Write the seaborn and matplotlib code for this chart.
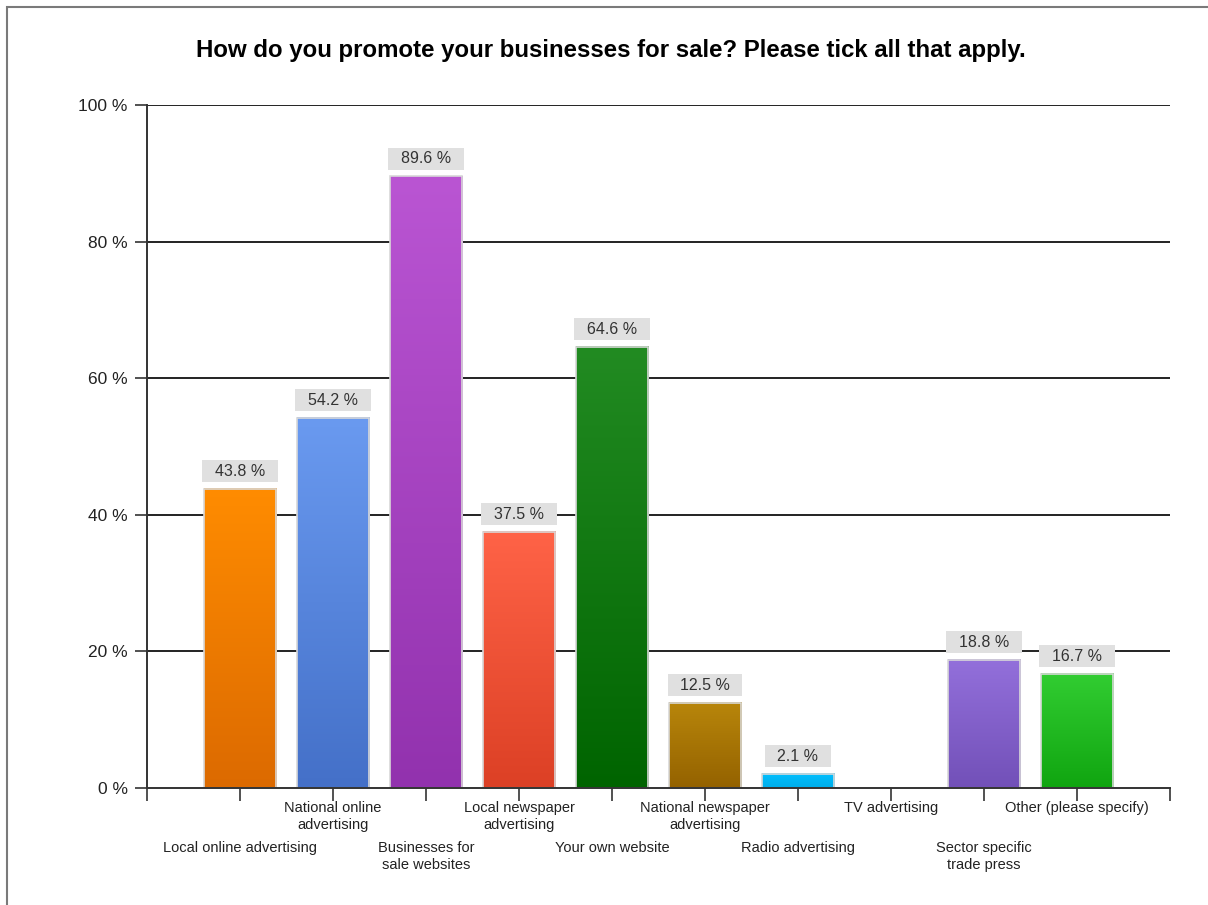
import numpy as np
import matplotlib
matplotlib.use("Agg")
import matplotlib.pyplot as plt
from matplotlib.colors import to_rgb
from matplotlib.patches import Rectangle
import seaborn as sns

# Survey answers and share of respondents (%)
categories = [
    "Local online advertising",
    "National online\nadvertising",
    "Businesses for\nsale websites",
    "Local newspaper\nadvertising",
    "Your own website",
    "National newspaper\nadvertising",
    "Radio advertising",
    "TV advertising",
    "Sector specific\ntrade press",
    "Other (please specify)",
]
values = [43.8, 54.2, 89.6, 37.5, 64.6, 12.5, 2.1, 0.0, 18.8, 16.7]
y_ticks = [0, 20, 40, 60, 80, 100]
y_tick_labels = ["0 %", "20 %", "40 %", "60 %", "80 %", "100 %"]
title = "How do you promote your businesses for sale? Please tick all that apply."

# top / bottom colours of each bar's vertical gradient
top_colors = ["#ff8c00", "#6a9af0", "#ba55d3", "#ff6347", "#228b22",
              "#b8860b", "#00bfff", "#888888", "#9370db", "#32cd32"]
bottom_colors = ["#dc6a00", "#4470c8", "#9232ae", "#dc4025", "#006400",
                 "#946200", "#00aeea", "#666666", "#7250b8", "#10a510"]

sns.set_style("white")
plt.rcParams["font.family"] = ["Liberation Sans", "DejaVu Sans"]

W, H = 1208, 905
fig = plt.figure(figsize=(W / 100, H / 100), dpi=100)
ax = fig.add_axes([147 / W, 1 - 788 / H, (1170 - 147) / W, (788 - 105) / H])

sns.barplot(x=list(range(len(values))), y=values, ax=ax, width=0.78,
            color="#999999", native_scale=True, zorder=2)

# replace flat fills by vertical gradients
for patch, c_top, c_bot in zip(ax.patches, top_colors, bottom_colors):
    x0, y0 = patch.get_x(), patch.get_y()
    w, h = patch.get_width(), patch.get_height()
    if h <= 0:
        patch.set_visible(False)
        continue
    t = np.linspace(0, 1, 256)[:, None, None]
    grad = (1 - t) * np.array(to_rgb(c_top)) + t * np.array(to_rgb(c_bot))
    ax.imshow(grad, extent=[x0, x0 + w, y0, y0 + h], aspect="auto",
              origin="upper", zorder=2, interpolation="bilinear")
    patch.set_facecolor("none")
    patch.set_edgecolor("#d8d8d8")
    patch.set_linewidth(1.2)
    patch.set_zorder(3)

# value labels in grey boxes
for i, v in enumerate(values):
    if v <= 0:
        continue
    ax.annotate(f"  {v:.1f} %  ", xy=(i, v), xytext=(0, 10),
                textcoords="offset pixels", ha="center", va="bottom",
                fontsize=11.5, color="#333333", zorder=5,
                bbox=dict(boxstyle="square,pad=0.22", fc="#e0e0e0", ec="none"))

ax.set_xlim(-1, len(values))
ax.set_ylim(0, 100)
ax.set_yticks(y_ticks)
ax.set_yticklabels(y_tick_labels, fontsize=12.5, color="#222222")
ax.set_xticks(list(range(-1, len(values) + 1)))
ax.set_xticklabels([])
ax.tick_params(axis="both", direction="out", length=9, width=1.2,
               color="#333333", left=True, bottom=True)
ax.tick_params(axis="y", pad=5)

for yv in y_ticks[1:]:
    ax.axhline(yv, color="#222222", lw=1.4, zorder=1)

for side in ("top", "right"):
    ax.spines[side].set_visible(False)
for side in ("left", "bottom"):
    ax.spines[side].set_color("#333333")
    ax.spines[side].set_linewidth(1.4)
    ax.spines[side].set_zorder(4)

# staggered category labels
xt = ax.get_xaxis_transform()
for i, lab in enumerate(categories):
    dy = -13 if i % 2 == 1 else -53
    ax.annotate(lab, xy=(i, 0), xycoords=xt, xytext=(0, dy),
                textcoords="offset pixels", ha="center", va="top",
                fontsize=10.5, color="#222222", linespacing=1.3,
                annotation_clip=False)

fig.text(611 / W, 1 - 50 / H, title, ha="center", va="center",
         fontsize=17.3, fontweight="bold", color="#000000")

# outer frame line
fig.patches.append(Rectangle((7 / W, -0.05), 1.2, 1 - 7 / H + 0.05,
                             transform=fig.transFigure, fill=False,
                             edgecolor="#7a7a7a", lw=1.5))

fig.savefig("out.png", dpi=100)
